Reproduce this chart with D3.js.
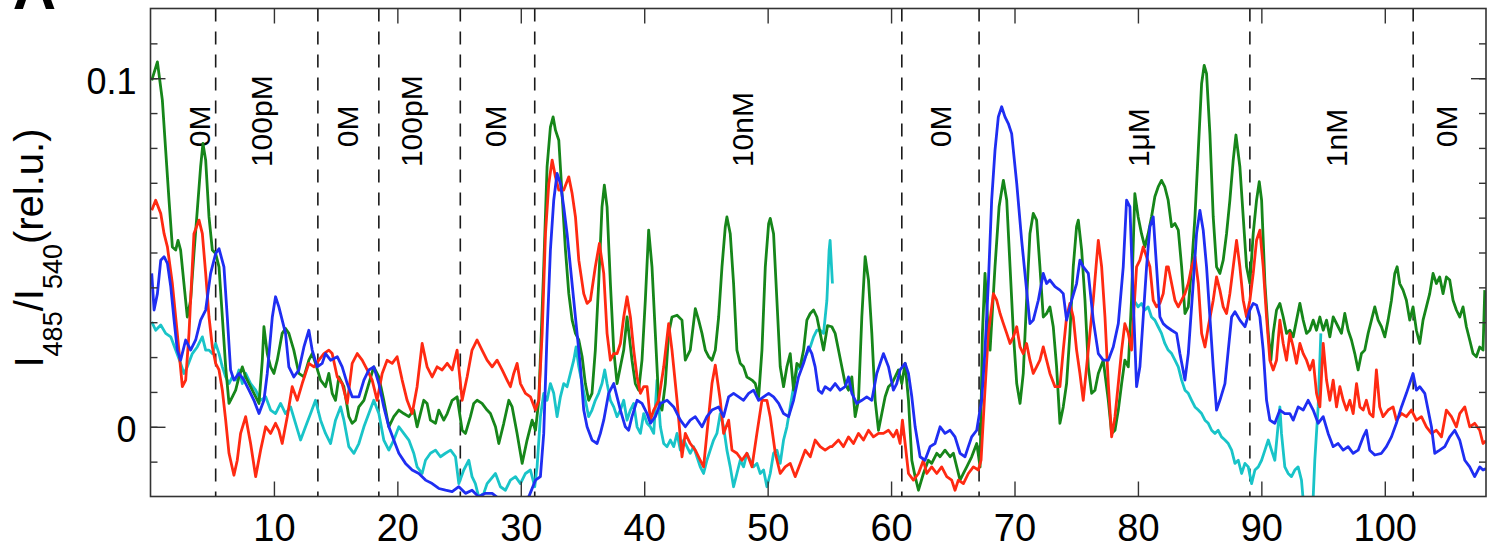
<!DOCTYPE html>
<html>
<head>
<meta charset="utf-8">
<script src="https://cdn.jsdelivr.net/npm/d3@7"></script>
<style>
  html, body { margin: 0; padding: 0; background: #fff; }
  svg { display: block; }
  text { font-family: "Liberation Sans", Arial, Helvetica, sans-serif; fill: #000; }
</style>
</head>
<body>
<svg id="chart" width="1499" height="554"></svg>
<script>
// ---- data -------------------------------------------------------------
// time axis (min) tick values and ratio tick labels
const timeTicks = [10, 20, 30, 40, 50, 60, 70, 80, 90, 100];
const ratioTickLabels = [0, 0.1];
const ratioMinorTicks = [-0.01, 0, 0.01, 0.02, 0.03, 0.04, 0.05, 0.06, 0.07, 0.08, 0.09, 0.1, 0.11];

// medium exchange times (min) and the concentration applied in each phase
const switchTimes = [5.28, 13.56, 18.5, 25.1, 31.13, 60.87, 67.13, 89.07, 102.3];
const phaseLabels = ["0M", "100pM", "0M", "100pM", "0M", "10nM", "0M", "1\u03bcM", "1nM", "0M"];
const phaseLabelTimes = [3.95, 9.0, 15.94, 21.15, 27.95, 47.9, 63.97, 80.0, 96.1, 105.0];
const phaseLabelLevels = [0.0802, 0.0745, 0.0802, 0.0745, 0.0802, 0.0745, 0.0802, 0.0745, 0.0745, 0.0802];

// I485/I540 traces of four cells: [time (min), ratio]
const blueCell = [
  [0.10,0.0440],[0.29,0.0335],[0.56,0.0382],[0.83,0.0478],[1.10,0.0488],[1.37,0.0469],[1.64,0.0402],[1.91,0.0306],
  [2.17,0.0220],[2.44,0.0191],[2.85,0.0249],[3.25,0.0220],[3.66,0.0249],[4.06,0.0306],[4.47,0.0335],[4.87,0.0440],
  [5.28,0.0497],[5.55,0.0511],[5.95,0.0459],[6.22,0.0315],[6.49,0.0163],[6.76,0.0134],[7.17,0.0153],[7.57,0.0134],
  [7.98,0.0105],[8.38,0.0076],[8.79,0.0038],[9.19,0.0076],[9.46,0.0153],[9.87,0.0315],[10.13,0.0373],[10.40,0.0344],
  [10.67,0.0306],[10.94,0.0268],[11.21,0.0172],[11.61,0.0143],[12.02,0.0163],[12.43,0.0229],[12.83,0.0277],[13.10,0.0220],
  [13.51,0.0172],[13.91,0.0182],[14.18,0.0210],[14.59,0.0191],[15.13,0.0201],[15.53,0.0172],[15.94,0.0124],[16.34,0.0086],
  [16.88,0.0086],[17.29,0.0134],[17.69,0.0163],[18.09,0.0172],[18.50,0.0124],[18.90,0.0057],[19.31,0.0000],[19.71,-0.0038],
  [20.12,-0.0076],[20.66,-0.0105],[21.20,-0.0124],[21.74,-0.0134],[22.28,-0.0153],[22.82,-0.0163],[23.36,-0.0177],[23.90,-0.0182],
  [24.44,-0.0186],[24.98,-0.0172],[25.52,-0.0191],[26.05,-0.0182],[26.59,-0.0201],[27.13,-0.0191],[27.68,-0.0191],[28.22,-0.0206],
  [29.03,-0.0210],[29.97,-0.0206],[30.65,-0.0201],[31.19,-0.0153],[31.59,-0.0143],[31.86,-0.0019],[32.13,0.0268],[32.40,0.0507],
  [32.67,0.0650],[32.94,0.0727],[33.21,0.0698],[33.48,0.0631],[33.75,0.0554],[34.02,0.0459],[34.29,0.0363],[34.56,0.0268],
  [34.83,0.0172],[35.10,0.0048],[35.37,0.0000],[35.77,-0.0038],[36.18,-0.0048],[36.45,-0.0019],[36.72,0.0019],[37.12,0.0096],
  [37.53,0.0124],[37.80,0.0086],[38.07,0.0048],[38.47,0.0000],[38.74,-0.0010],[39.01,0.0029],[39.42,0.0076],[39.82,0.0067],
  [40.23,0.0038],[40.50,0.0010],[40.90,0.0029],[41.31,0.0067],[41.85,0.0076],[42.39,0.0057],[42.93,0.0019],[43.33,0.0000],
  [43.73,0.0019],[44.14,0.0029],[44.68,0.0000],[45.08,0.0029],[45.49,0.0048],[46.03,0.0057],[46.43,0.0029],[46.84,0.0086],
  [47.24,0.0096],[47.65,0.0086],[48.05,0.0076],[48.46,0.0096],[48.86,0.0105],[49.27,0.0076],[49.67,0.0086],[50.08,0.0096],
  [50.48,0.0086],[50.89,0.0067],[51.29,0.0038],[51.70,0.0029],[52.10,0.0076],[52.50,0.0143],[52.91,0.0182],[53.31,0.0229],
  [53.58,0.0210],[53.85,0.0172],[54.12,0.0105],[54.39,0.0096],[54.66,0.0115],[55.07,0.0105],[55.47,0.0124],[55.87,0.0105],
  [56.28,0.0115],[56.55,0.0143],[56.82,0.0096],[57.22,0.0067],[57.63,0.0076],[58.03,0.0086],[58.44,0.0076],[58.84,0.0153],
  [59.38,0.0210],[59.79,0.0172],[60.19,0.0105],[60.46,0.0124],[60.73,0.0163],[61.14,0.0182],[61.41,0.0153],[61.68,0.0086],
  [61.95,0.0000],[62.35,-0.0086],[62.75,-0.0096],[63.16,-0.0057],[63.56,-0.0048],[63.97,0.0000],[64.37,-0.0019],[64.78,-0.0010],
  [65.18,-0.0029],[65.59,-0.0076],[65.99,-0.0086],[66.26,-0.0057],[66.53,-0.0029],[66.94,-0.0010],[67.07,0.0019],[67.34,0.0076],
  [67.61,0.0220],[67.88,0.0411],[68.15,0.0650],[68.42,0.0793],[68.69,0.0889],[68.96,0.0918],[69.23,0.0889],[69.50,0.0870],
  [69.77,0.0841],[70.18,0.0698],[70.58,0.0535],[70.98,0.0392],[71.25,0.0296],[71.52,0.0306],[71.93,0.0363],[72.33,0.0440],
  [72.60,0.0411],[72.87,0.0421],[73.28,0.0402],[73.68,0.0392],[73.95,0.0382],[74.22,0.0306],[74.63,0.0363],[75.03,0.0411],
  [75.30,0.0478],[75.57,0.0459],[75.98,0.0440],[76.38,0.0306],[76.79,0.0210],[77.19,0.0191],[77.60,0.0191],[78.00,0.0229],
  [78.41,0.0296],[78.81,0.0459],[79.08,0.0650],[79.35,0.0631],[79.62,0.0363],[79.89,0.0115],[80.16,0.0172],[80.43,0.0315],
  [80.70,0.0459],[80.97,0.0574],[81.24,0.0602],[81.51,0.0459],[81.78,0.0315],[82.05,0.0296],[82.32,0.0287],[82.73,0.0277],
  [83.13,0.0268],[83.40,0.0210],[83.81,0.0134],[84.08,0.0210],[84.48,0.0411],[84.75,0.0554],[85.02,0.0621],[85.29,0.0564],
  [85.56,0.0459],[85.83,0.0315],[86.10,0.0172],[86.37,0.0048],[86.64,0.0076],[87.05,0.0124],[87.32,0.0220],[87.59,0.0315],
  [87.86,0.0330],[88.26,0.0306],[88.67,0.0287],[89.07,0.0335],[89.34,0.0354],[89.61,0.0349],[89.88,0.0315],[90.15,0.0220],
  [90.42,0.0076],[90.69,0.0019],[91.09,0.0010],[91.50,0.0048],[91.90,0.0038],[92.31,0.0038],[92.58,0.0019],[92.98,0.0057],
  [93.39,0.0048],[93.79,0.0076],[94.20,0.0048],[94.60,0.0010],[95.01,0.0029],[95.41,-0.0019],[95.82,-0.0057],[96.22,-0.0048],
  [96.63,-0.0067],[97.03,-0.0057],[97.44,-0.0076],[97.84,-0.0067],[98.25,-0.0029],[98.51,-0.0010],[98.78,-0.0067],[99.19,-0.0081],
  [99.73,-0.0076],[100.13,-0.0057],[100.54,-0.0029],[100.94,0.0010],[101.35,0.0057],[101.75,0.0096],[102.29,0.0153],[102.56,0.0105],
  [102.83,0.0115],[103.24,0.0096],[103.51,0.0048],[103.78,0.0000],[104.05,-0.0076],[104.45,-0.0067],[104.86,-0.0057],[105.26,-0.0029],
  [105.67,-0.0010],[106.07,-0.0038],[106.48,-0.0096],[106.88,-0.0115],[107.28,-0.0143],[107.69,-0.0115],[107.96,-0.0124],[108.2,-0.0120]
];

const redCell = [
  [0.10,0.0621],[0.42,0.0650],[0.83,0.0612],[1.10,0.0554],[1.37,0.0516],[1.77,0.0411],[2.17,0.0268],[2.58,0.0115],
  [2.85,0.0134],[3.12,0.0268],[3.25,0.0363],[3.52,0.0554],[3.93,0.0593],[4.20,0.0554],[4.47,0.0440],[4.74,0.0315],
  [5.01,0.0229],[5.28,0.0182],[5.55,0.0163],[5.82,0.0105],[6.09,0.0019],[6.36,-0.0076],[6.76,-0.0139],[7.03,-0.0096],
  [7.30,-0.0019],[7.71,0.0029],[8.11,-0.0048],[8.52,-0.0143],[8.92,-0.0067],[9.33,0.0000],[9.73,-0.0019],[10.13,0.0010],
  [10.40,-0.0010],[10.67,-0.0048],[11.08,0.0029],[11.48,0.0115],[11.89,0.0076],[12.29,0.0124],[12.83,0.0182],[13.24,0.0172],
  [13.64,0.0191],[14.05,0.0210],[14.45,0.0220],[14.72,0.0210],[15.13,0.0143],[15.53,0.0124],[15.94,0.0067],[16.34,0.0182],
  [16.75,0.0210],[17.15,0.0191],[17.56,0.0163],[17.96,0.0134],[18.36,0.0076],[18.77,0.0153],[19.17,0.0191],[19.58,0.0182],
  [19.98,0.0201],[20.39,0.0134],[20.79,0.0076],[21.20,0.0038],[21.60,0.0115],[22.01,0.0239],[22.41,0.0172],[22.82,0.0143],
  [23.22,0.0172],[23.63,0.0163],[24.04,0.0182],[24.44,0.0163],[24.84,0.0220],[25.25,0.0076],[25.65,0.0143],[26.05,0.0220],
  [26.46,0.0249],[26.86,0.0220],[27.27,0.0191],[27.68,0.0172],[28.08,0.0191],[28.49,0.0163],[28.89,0.0134],[29.16,0.0115],
  [29.43,0.0153],[29.70,0.0182],[29.97,0.0124],[30.38,0.0096],[30.78,0.0086],[31.19,0.0048],[31.46,0.0076],[31.73,0.0268],
  [32.00,0.0554],[32.27,0.0698],[32.54,0.0765],[32.81,0.0717],[33.08,0.0679],[33.48,0.0679],[33.89,0.0717],[34.16,0.0669],
  [34.43,0.0602],[34.70,0.0478],[35.10,0.0382],[35.37,0.0354],[35.64,0.0363],[36.04,0.0459],[36.37,0.0526],[36.72,0.0440],
  [36.99,0.0268],[37.26,0.0191],[37.53,0.0210],[37.80,0.0210],[38.07,0.0239],[38.34,0.0315],[38.61,0.0373],[38.88,0.0315],
  [39.15,0.0220],[39.42,0.0143],[39.69,0.0096],[39.96,0.0115],[40.23,0.0115],[40.50,0.0019],[40.77,0.0048],[41.17,0.0076],
  [41.58,0.0172],[41.98,0.0296],[42.25,0.0220],[42.66,0.0076],[43.06,-0.0086],[43.33,-0.0019],[43.73,-0.0048],[44.14,-0.0067],
  [44.54,-0.0096],[44.81,-0.0115],[45.08,-0.0019],[45.49,0.0124],[45.76,0.0177],[46.16,0.0076],[46.43,-0.0019],[46.84,0.0019],
  [47.11,-0.0067],[47.51,-0.0076],[47.92,-0.0096],[48.32,-0.0076],[48.73,-0.0115],[49.13,-0.0019],[49.54,0.0076],[49.94,0.0076],
  [50.21,0.0029],[50.62,-0.0076],[51.02,-0.0134],[51.42,-0.0115],[51.83,-0.0105],[52.23,-0.0143],[52.64,-0.0105],[53.04,-0.0067],
  [53.45,-0.0086],[53.85,-0.0038],[54.26,-0.0057],[54.66,-0.0067],[55.07,-0.0057],[55.20,-0.0057],[55.74,-0.0038],[56.14,-0.0057],
  [56.55,-0.0029],[56.95,-0.0048],[57.36,-0.0019],[57.76,-0.0038],[58.17,-0.0010],[58.57,-0.0029],[58.98,-0.0019],[59.38,-0.0019],
  [59.79,-0.0010],[60.19,-0.0029],[60.46,-0.0010],[60.73,-0.0048],[60.92,0.0019],[61.14,-0.0048],[61.41,-0.0134],[61.81,-0.0153],
  [62.22,-0.0134],[62.62,-0.0096],[62.89,-0.0134],[63.29,-0.0115],[63.70,-0.0134],[64.10,-0.0115],[64.51,-0.0143],[64.91,-0.0153],
  [65.18,-0.0182],[65.45,-0.0153],[65.86,-0.0163],[66.26,-0.0134],[66.67,-0.0115],[67.07,-0.0124],[67.29,-0.0096],[67.56,0.0076],
  [67.88,0.0268],[68.29,0.0382],[68.56,0.0363],[68.83,0.0325],[69.10,0.0296],[69.37,0.0268],[69.64,0.0239],[69.91,0.0258],
  [70.18,0.0287],[70.45,0.0229],[70.71,0.0210],[70.98,0.0239],[71.25,0.0191],[71.52,0.0153],[71.79,0.0172],[72.06,0.0191],
  [72.33,0.0229],[72.60,0.0191],[72.87,0.0153],[73.28,0.0115],[73.68,0.0115],[73.95,0.0220],[74.22,0.0315],[74.49,0.0354],
  [74.76,0.0315],[75.03,0.0220],[75.30,0.0153],[75.57,0.0076],[75.84,0.0172],[76.11,0.0268],[76.38,0.0363],[76.65,0.0478],
  [76.79,0.0535],[77.06,0.0459],[77.33,0.0315],[77.60,0.0124],[77.87,-0.0029],[78.14,0.0029],[78.41,0.0124],[78.68,0.0220],
  [78.94,0.0296],[79.22,0.0268],[79.48,0.0220],[79.89,0.0459],[80.16,0.0478],[80.43,0.0516],[80.70,0.0488],[80.97,0.0459],
  [81.24,0.0363],[81.51,0.0344],[81.78,0.0354],[82.05,0.0382],[82.32,0.0459],[82.46,0.0459],[82.73,0.0411],[83.00,0.0363],
  [83.27,0.0344],[83.54,0.0363],[83.81,0.0382],[84.08,0.0411],[84.35,0.0459],[84.62,0.0488],[84.89,0.0411],[85.16,0.0268],
  [85.43,0.0229],[85.70,0.0287],[86.10,0.0363],[86.37,0.0430],[86.64,0.0392],[86.91,0.0344],[87.18,0.0325],[87.45,0.0382],
  [87.72,0.0459],[87.99,0.0535],[88.26,0.0459],[88.53,0.0363],[88.80,0.0315],[89.07,0.0363],[89.34,0.0440],[89.61,0.0535],
  [89.88,0.0564],[90.15,0.0459],[90.42,0.0315],[90.69,0.0191],[90.96,0.0163],[91.23,0.0191],[91.50,0.0306],[91.77,0.0239],
  [92.04,0.0191],[92.31,0.0268],[92.58,0.0229],[92.85,0.0182],[93.12,0.0239],[93.39,0.0210],[93.66,0.0191],[93.93,0.0163],
  [94.20,0.0191],[94.47,0.0096],[94.74,0.0057],[95.01,0.0239],[95.28,0.0134],[95.55,0.0076],[95.82,0.0134],[96.09,0.0057],
  [96.36,0.0115],[96.63,0.0076],[96.90,0.0048],[97.17,0.0076],[97.44,0.0038],[97.71,0.0124],[97.98,0.0057],[98.25,0.0048],
  [98.51,0.0076],[98.78,0.0038],[99.05,0.0029],[99.32,0.0163],[99.59,0.0057],[99.86,0.0029],[100.27,0.0048],[100.67,0.0057],
  [100.94,0.0019],[101.35,0.0038],[101.75,0.0029],[102.16,0.0048],[102.56,0.0019],[102.97,0.0029],[103.37,0.0000],[103.78,-0.0019],
  [104.18,-0.0010],[104.59,-0.0029],[104.99,0.0048],[105.40,0.0029],[105.80,0.0000],[106.07,0.0038],[106.48,0.0057],[106.88,0.0000],
  [107.28,0.0010],[107.69,-0.0010],[107.96,-0.0048],[108.2,-0.0040]
];

const greenCell = [
  [0.10,0.0994],[0.56,0.1047],[0.96,0.0937],[1.23,0.0793],[1.50,0.0650],[1.77,0.0516],[2.04,0.0507],[2.23,0.0535],
  [2.44,0.0507],[2.71,0.0411],[2.98,0.0315],[3.25,0.0363],[3.52,0.0497],[3.79,0.0621],[4.06,0.0746],[4.25,0.0813],
  [4.47,0.0765],[4.74,0.0602],[5.01,0.0507],[5.28,0.0497],[5.55,0.0459],[5.82,0.0315],[6.09,0.0172],[6.36,0.0067],
  [6.63,0.0086],[6.90,0.0105],[7.17,0.0143],[7.44,0.0172],[7.71,0.0143],[7.98,0.0124],[8.38,0.0096],[8.79,0.0067],
  [9.06,0.0191],[9.19,0.0287],[9.46,0.0210],[9.73,0.0172],[10.00,0.0153],[10.27,0.0191],[10.67,0.0268],[10.94,0.0282],
  [11.21,0.0268],[11.61,0.0220],[12.02,0.0153],[12.43,0.0143],[12.83,0.0191],[13.10,0.0210],[13.37,0.0182],[13.78,0.0134],
  [14.18,0.0115],[14.45,0.0153],[14.72,0.0096],[14.99,0.0076],[15.26,0.0143],[15.67,0.0115],[16.07,0.0029],[16.34,0.0010],
  [16.61,0.0019],[16.88,0.0057],[17.29,0.0076],[17.69,0.0124],[18.09,0.0172],[18.50,0.0143],[18.90,0.0076],[19.31,0.0000],
  [19.71,0.0029],[20.12,0.0048],[20.52,0.0038],[20.93,0.0029],[21.33,0.0048],[21.60,0.0000],[21.87,0.0038],[22.14,0.0076],
  [22.41,0.0067],[22.68,0.0019],[23.09,0.0010],[23.36,0.0048],[23.76,0.0019],[24.04,0.0038],[24.44,0.0076],[24.84,0.0086],
  [25.25,-0.0010],[25.52,-0.0019],[25.92,0.0029],[26.19,0.0067],[26.46,0.0076],[26.86,0.0067],[27.27,0.0048],[27.54,0.0038],
  [27.95,0.0000],[28.22,-0.0048],[28.62,0.0010],[29.03,0.0076],[29.30,0.0057],[29.70,-0.0019],[30.11,-0.0105],[30.51,-0.0038],
  [30.92,0.0019],[31.19,-0.0010],[31.46,0.0076],[31.86,0.0459],[32.13,0.0746],[32.40,0.0860],[32.62,0.0889],[32.81,0.0851],
  [33.08,0.0822],[33.29,0.0698],[33.62,0.0507],[33.89,0.0382],[34.16,0.0306],[34.43,0.0268],[34.70,0.0249],[34.97,0.0201],
  [35.23,0.0124],[35.50,0.0076],[35.77,0.0096],[36.04,0.0220],[36.31,0.0411],[36.58,0.0631],[36.77,0.0693],[36.99,0.0631],
  [37.26,0.0411],[37.53,0.0220],[37.80,0.0124],[38.07,0.0172],[38.34,0.0220],[38.61,0.0315],[39.01,0.0191],[39.28,0.0124],
  [39.55,0.0105],[39.82,0.0191],[40.09,0.0363],[40.36,0.0564],[40.63,0.0459],[40.90,0.0268],[41.17,0.0076],[41.44,0.0048],
  [41.71,0.0124],[41.98,0.0268],[42.25,0.0315],[42.66,0.0320],[43.06,0.0306],[43.33,0.0191],[43.73,0.0220],[44.14,0.0339],
  [44.41,0.0306],[44.68,0.0268],[44.95,0.0220],[45.22,0.0201],[45.49,0.0191],[45.76,0.0220],[46.03,0.0315],[46.30,0.0459],
  [46.57,0.0574],[46.70,0.0602],[46.97,0.0554],[47.24,0.0411],[47.51,0.0220],[47.78,0.0182],[48.05,0.0172],[48.32,0.0143],
  [48.73,0.0134],[49.00,0.0124],[49.27,0.0086],[49.54,0.0220],[49.81,0.0459],[50.08,0.0583],[50.21,0.0598],[50.48,0.0554],
  [50.75,0.0363],[51.02,0.0172],[51.29,0.0115],[51.56,0.0172],[51.83,0.0210],[52.10,0.0105],[52.37,0.0182],[52.64,0.0172],
  [52.91,0.0220],[53.18,0.0306],[53.45,0.0325],[53.72,0.0335],[53.99,0.0315],[54.26,0.0268],[54.53,0.0220],[54.85,0.0290],
  [55.20,0.0287],[55.47,0.0268],[55.74,0.0220],[56.01,0.0172],[56.28,0.0124],[56.55,0.0105],[56.82,0.0143],[57.09,0.0029],
  [57.36,0.0076],[57.63,0.0315],[57.90,0.0488],[58.17,0.0421],[58.44,0.0268],[58.71,0.0076],[58.98,-0.0010],[59.25,0.0038],
  [59.52,0.0086],[59.79,0.0115],[60.06,0.0124],[60.33,0.0143],[60.60,0.0163],[60.87,0.0124],[61.14,0.0182],[61.41,0.0076],
  [61.68,-0.0096],[61.95,-0.0143],[62.22,-0.0182],[62.62,-0.0134],[63.02,-0.0096],[63.29,-0.0105],[63.70,-0.0076],[63.97,-0.0086],
  [64.37,-0.0067],[64.78,-0.0086],[65.05,-0.0076],[65.32,-0.0115],[65.59,-0.0153],[65.86,-0.0134],[66.13,-0.0115],[66.53,-0.0086],
  [66.94,-0.0048],[67.21,-0.0115],[67.40,0.0268],[67.61,0.0440],[67.88,0.0268],[68.02,0.0220],[68.42,0.0459],[68.75,0.0631],
  [69.10,0.0707],[69.37,0.0650],[69.64,0.0459],[69.91,0.0268],[70.18,0.0124],[70.45,0.0067],[70.71,0.0153],[70.98,0.0363],
  [71.25,0.0554],[71.52,0.0612],[71.79,0.0593],[72.06,0.0459],[72.33,0.0315],[72.60,0.0325],[72.87,0.0344],[73.14,0.0287],
  [73.41,0.0172],[73.68,0.0010],[73.95,0.0057],[74.22,0.0124],[74.49,0.0268],[74.76,0.0459],[75.03,0.0574],[75.17,0.0593],
  [75.44,0.0507],[75.71,0.0363],[75.98,0.0172],[76.25,0.0096],[76.52,0.0105],[76.79,0.0153],[77.19,0.0191],[77.60,0.0076],
  [77.87,-0.0019],[78.14,-0.0010],[78.41,0.0048],[78.68,0.0124],[78.94,0.0191],[79.22,0.0172],[79.48,0.0363],[79.75,0.0669],
  [80.02,0.0602],[80.29,0.0554],[80.56,0.0516],[80.83,0.0554],[81.10,0.0602],[81.37,0.0660],[81.64,0.0688],[81.91,0.0707],
  [82.18,0.0688],[82.45,0.0650],[82.73,0.0574],[83.00,0.0583],[83.27,0.0564],[83.54,0.0459],[83.81,0.0325],[84.08,0.0344],
  [84.35,0.0459],[84.62,0.0602],[84.89,0.0793],[85.16,0.0985],[85.37,0.1037],[85.56,0.1013],[85.83,0.0841],[86.10,0.0602],
  [86.37,0.0459],[86.64,0.0440],[86.91,0.0478],[87.18,0.0554],[87.45,0.0650],[87.72,0.0765],[87.94,0.0837],[88.26,0.0746],
  [88.53,0.0602],[88.80,0.0459],[89.07,0.0411],[89.34,0.0554],[89.61,0.0650],[89.83,0.0703],[90.02,0.0650],[90.29,0.0411],
  [90.56,0.0268],[90.77,0.0191],[90.96,0.0268],[91.23,0.0335],[91.50,0.0354],[91.77,0.0315],[92.04,0.0268],[92.31,0.0277],
  [92.58,0.0258],[92.85,0.0306],[93.12,0.0354],[93.39,0.0306],[93.66,0.0268],[93.93,0.0277],[94.20,0.0306],[94.47,0.0277],
  [94.74,0.0315],[95.01,0.0277],[95.28,0.0306],[95.55,0.0258],[95.82,0.0315],[96.22,0.0287],[96.49,0.0268],[96.76,0.0325],
  [97.03,0.0277],[97.30,0.0249],[97.57,0.0210],[97.84,0.0163],[98.11,0.0210],[98.38,0.0220],[98.65,0.0268],[98.92,0.0306],
  [99.19,0.0344],[99.46,0.0306],[99.73,0.0287],[100.00,0.0258],[100.27,0.0306],[100.54,0.0363],[100.81,0.0440],[101.00,0.0459],
  [101.21,0.0411],[101.48,0.0392],[101.75,0.0363],[102.02,0.0306],[102.29,0.0344],[102.56,0.0277],[102.83,0.0239],[103.10,0.0306],
  [103.37,0.0344],[103.64,0.0382],[103.91,0.0440],[104.18,0.0411],[104.45,0.0430],[104.72,0.0382],[104.99,0.0430],[105.26,0.0421],
  [105.53,0.0363],[105.80,0.0335],[106.07,0.0315],[106.34,0.0344],[106.61,0.0287],[106.88,0.0249],[107.15,0.0210],[107.42,0.0201],
  [107.69,0.0229],[107.96,0.0220],[108.10,0.0392]
];

// the cyan cell has gaps where it was not tracked (null)
const cyanCell = [
  [0.10,0.0301],[0.42,0.0277],[0.83,0.0292],[1.23,0.0268],[1.64,0.0258],[2.04,0.0220],[2.44,0.0182],[2.71,0.0153],
  [2.98,0.0172],[3.39,0.0210],[3.79,0.0229],[4.20,0.0258],[4.47,0.0220],[4.74,0.0220],[5.01,0.0210],[5.28,0.0239],
  [5.55,0.0210],[5.82,0.0172],[6.09,0.0143],[6.36,0.0124],[6.63,0.0143],[6.90,0.0134],[7.17,0.0163],[7.44,0.0124],
  [7.71,0.0153],[8.11,0.0124],[8.52,0.0105],[8.92,0.0076],[9.33,0.0086],[9.73,0.0048],[10.13,0.0038],[10.54,0.0067],
  [10.94,0.0038],[11.35,0.0057],[11.75,0.0010],[12.16,-0.0038],[12.56,0.0000],[12.97,0.0038],[13.37,0.0076],[13.78,0.0019],
  [14.18,-0.0019],[14.59,-0.0048],[14.99,0.0019],[15.40,0.0057],[15.67,0.0019],[16.07,-0.0057],[16.48,-0.0076],[16.88,-0.0048],
  [17.29,0.0000],[17.69,0.0038],[18.09,0.0076],[18.50,0.0038],[18.90,-0.0038],[19.31,-0.0067],[19.71,-0.0038],[20.12,0.0000],
  [20.52,-0.0019],[20.93,-0.0038],[21.33,-0.0076],[21.60,-0.0115],[22.01,-0.0134],[22.28,-0.0096],[22.68,-0.0076],[23.09,-0.0067],
  [23.49,-0.0086],[23.90,-0.0076],[24.31,-0.0067],[24.71,-0.0086],[24.98,-0.0163],[25.38,-0.0124],[25.79,-0.0096],[26.05,-0.0143],
  [26.32,-0.0163],[26.59,-0.0201],[27.00,-0.0191],[27.27,-0.0163],[27.95,-0.0134],[28.35,-0.0172],[28.76,-0.0182],[29.16,-0.0153],
  [29.57,-0.0143],[29.97,-0.0163],[30.38,-0.0134],[30.78,-0.0124],[31.13,-0.0172],[31.32,-0.0115],[31.59,0.0029],[31.86,0.0096],
  [32.13,0.0076],[32.40,0.0124],[32.67,0.0096],[32.94,0.0029],[33.21,0.0086],[33.48,0.0124],[33.75,0.0115],[34.02,0.0153],
  [34.29,0.0191],[34.48,0.0229],[34.70,0.0172],[34.97,0.0124],[35.23,0.0076],[35.50,0.0029],[35.77,0.0048],[36.04,0.0076],
  [36.31,0.0096],[36.58,0.0124],[36.80,0.0163],[36.99,0.0124],[37.26,0.0076],[37.53,0.0057],[37.80,0.0029],[38.07,0.0048],
  [38.34,0.0076],[38.61,0.0019],[38.88,0.0048],[39.15,0.0067],[39.42,0.0000],[39.69,-0.0019],[39.96,0.0038],[40.23,0.0010],
  [40.50,0.0000],[40.77,-0.0019],[41.04,0.0134],[41.31,0.0000],[41.58,-0.0048],[41.85,-0.0057],[42.12,-0.0038],[42.39,-0.0057],
  [42.66,-0.0019],[42.93,-0.0067],[43.20,-0.0038],[43.46,-0.0057],[43.73,-0.0076],[44.00,-0.0057],[44.27,-0.0086],[44.54,-0.0115],
  [44.81,-0.0134],[45.08,-0.0096],[45.35,-0.0067],[45.62,-0.0038],[45.89,-0.0019],[46.16,0.0038],[46.43,0.0000],[46.70,-0.0067],
  [46.97,-0.0115],[47.24,-0.0172],[47.51,-0.0134],[47.78,-0.0096],[48.05,-0.0115],[48.32,-0.0076],[48.59,-0.0096],[48.86,-0.0115],
  [49.13,-0.0105],[49.40,-0.0134],[49.67,-0.0124],[49.94,-0.0172],[50.21,-0.0134],[50.48,-0.0076],[50.75,-0.0067],[51.02,-0.0105],
  [51.29,-0.0038],[51.56,0.0000],[51.83,0.0057],[52.10,0.0115],[52.37,0.0163],[52.64,0.0172],[52.91,0.0191],[53.18,0.0210],
  [53.45,0.0229],[53.72,0.0258],[53.99,0.0277],[54.26,0.0277],[54.53,0.0268],[54.80,0.0363],[54.98,0.0507],[55.06,0.0535],
  [55.25,0.0411],
  null,
  [79.75,0.0359],[80.02,0.0344],[80.29,0.0354],[80.56,0.0335],[80.83,0.0344],[81.10,0.0315],[81.37,0.0306],[81.64,0.0287],
  [81.91,0.0268],[82.18,0.0239],[82.45,0.0220],[82.73,0.0210],[83.00,0.0191],[83.27,0.0172],[83.54,0.0134],[83.81,0.0105],
  [84.08,0.0096],[84.35,0.0076],[84.62,0.0057],[84.89,0.0048],[85.16,0.0038],[85.43,0.0019],[85.70,0.0010],[85.97,-0.0010],
  [86.24,-0.0019],[86.50,-0.0010],[86.77,-0.0029],[87.05,-0.0038],[87.32,-0.0048],[87.59,-0.0067],[87.86,-0.0105],[88.13,-0.0096],
  [88.40,-0.0134],[88.67,-0.0105],[88.94,-0.0115],[89.21,-0.0163],[89.48,-0.0124],[89.75,-0.0115],[90.02,-0.0096],[90.29,-0.0067],
  [90.56,-0.0038],[90.82,-0.0067],[91.09,-0.0096],[91.50,0.0057],[91.63,-0.0019],[91.90,-0.0115],[92.17,-0.0134],[92.44,-0.0143],
  [92.71,-0.0124],[92.98,-0.0115],[93.25,-0.0153],[93.39,-0.0210],[93.79,-0.0239],[94.20,-0.0201],[94.33,-0.0096],[94.60,0.0057],
  [94.82,0.0268]
];

const traces = [
  { name: "cyan",  color: "#19c4c8", points: cyanCell },
  { name: "green", color: "#16861a", points: greenCell },
  { name: "red",   color: "#ff2a12", points: redCell },
  { name: "blue",  color: "#1f2ef2", points: blueCell }
];

// ---- layout -----------------------------------------------------------
const svg = d3.select("#chart");
const plotLeft = 150.5, plotRight = 1486, plotTop = 8.5, plotBottom = 496.5;

const x = d3.scaleLinear().domain([0, 108.2]).range([plotLeft, plotRight]);
const y = d3.scaleLinear().domain([-0.02, 0.12]).range([plotBottom, plotTop]);

svg.append("rect").attr("width", 1499).attr("height", 554).attr("fill", "#fff");

svg.append("defs").append("clipPath").attr("id", "plot-clip")
  .append("rect").attr("x", plotLeft).attr("y", plotTop)
  .attr("width", plotRight - plotLeft).attr("height", plotBottom - plotTop);

// phase boundaries
svg.append("g").selectAll("line").data(switchTimes).join("line")
  .attr("x1", d => x(d)).attr("x2", d => x(d))
  .attr("y1", plotTop).attr("y2", plotBottom)
  .attr("stroke", "#1a1a1a").attr("stroke-width", 1.6)
  .attr("stroke-dasharray", "13,10");

// phase labels, rotated
svg.append("g").selectAll("text").data(phaseLabels).join("text")
  .attr("transform", (d, i) => `translate(${x(phaseLabelTimes[i])},${y(phaseLabelLevels[i])}) rotate(-90)`)
  .attr("dy", "0.36em")
  .attr("text-anchor", "start")
  .attr("font-size", 30)
  .text(d => d);

// traces
const line = d3.line()
  .defined(d => d !== null)
  .x(d => x(d[0]))
  .y(d => y(d[1]));

svg.append("g").attr("clip-path", "url(#plot-clip)")
  .selectAll("path").data(traces).join("path")
  .attr("d", d => line(d.points))
  .attr("fill", "none")
  .attr("stroke", d => d.color)
  .attr("stroke-width", 2.8)
  .attr("stroke-linejoin", "round");

// axes: ticks point inward on all four sides
const axisColor = "#333";
function styleAxis(g) {
  g.select(".domain").remove();
  g.selectAll(".tick line").attr("stroke", axisColor).attr("stroke-width", 1.4);
}

svg.append("g").attr("transform", `translate(0,${plotBottom})`)
  .call(d3.axisBottom(x).tickValues(timeTicks).tickSize(-15).tickPadding(18).tickFormat(d3.format("d")))
  .call(styleAxis)
  .call(g => g.selectAll(".tick text").attr("font-size", 38).attr("fill", "#000")
    .attr("font-family", "'Liberation Sans', Arial, sans-serif"));

svg.append("g").attr("transform", `translate(0,${plotTop})`)
  .call(d3.axisTop(x).tickValues(timeTicks).tickSize(-15).tickFormat(""))
  .call(styleAxis);

svg.append("g").attr("transform", `translate(${plotLeft},0)`)
  .call(d3.axisLeft(y).tickValues(ratioMinorTicks).tickSize(-7).tickFormat(""))
  .call(styleAxis);
svg.append("g").attr("transform", `translate(${plotLeft},0)`)
  .call(d3.axisLeft(y).tickValues(ratioTickLabels).tickSize(-15).tickPadding(14).tickFormat(d => d === 0 ? "0" : String(d)))
  .call(styleAxis)
  .call(g => g.selectAll(".tick text").attr("font-size", 36).attr("fill", "#000").attr("dy", "0.42em")
    .attr("font-family", "'Liberation Sans', Arial, sans-serif"));

svg.append("g").attr("transform", `translate(${plotRight},0)`)
  .call(d3.axisRight(y).tickValues(ratioMinorTicks).tickSize(-7).tickFormat(""))
  .call(styleAxis);
svg.append("g").attr("transform", `translate(${plotRight},0)`)
  .call(d3.axisRight(y).tickValues(ratioTickLabels).tickSize(-15).tickFormat(""))
  .call(styleAxis);

// frame
svg.append("rect")
  .attr("x", plotLeft).attr("y", plotTop)
  .attr("width", plotRight - plotLeft).attr("height", plotBottom - plotTop)
  .attr("fill", "none").attr("stroke", axisColor).attr("stroke-width", 1.6);

// y-axis title with subscripts
const yTitle = svg.append("text")
  .attr("transform", "translate(43,248) rotate(-90)")
  .attr("text-anchor", "middle")
  .attr("font-size", 40);
yTitle.append("tspan").text("I");
yTitle.append("tspan").attr("font-size", 27).attr("dy", 19).text("485");
yTitle.append("tspan").attr("dy", -19).text("/I");
yTitle.append("tspan").attr("font-size", 27).attr("dy", 19).text("540");
yTitle.append("tspan").attr("dy", -19).text("(rel.u.)");

// panel letter, cropped by the top edge
svg.append("text")
  .attr("x", 56).attr("y", 9)
  .attr("text-anchor", "end")
  .attr("font-size", 60).attr("font-weight", "bold")
  .text("A");
</script>
</body>
</html>
